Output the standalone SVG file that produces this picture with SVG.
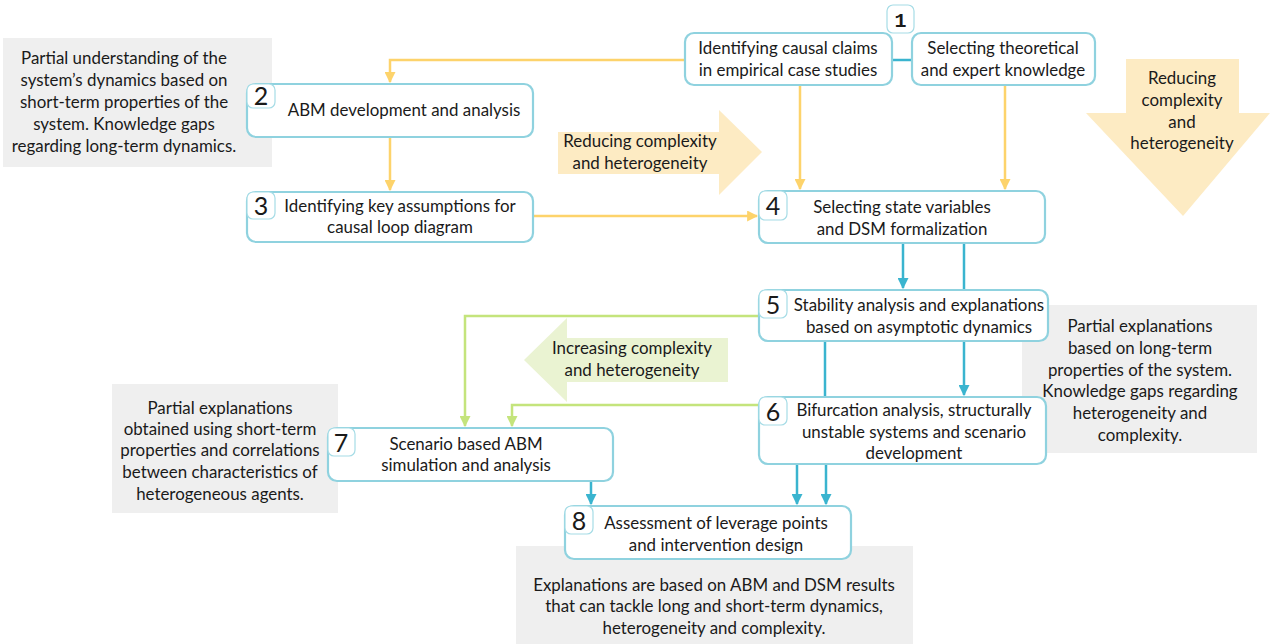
<svg xmlns="http://www.w3.org/2000/svg" width="1286" height="644" viewBox="0 0 1286 644">
<defs>
<style>
text{font-family:Lato,"Open Sans","Liberation Sans",sans-serif;font-size:16.9px;fill:#1a1a1a;text-anchor:middle}
.gray{fill:#efefef}
.node{fill:#fff;stroke:#8fd2df;stroke-width:2.2}
.badge{fill:#fff;stroke:#a6dce6;stroke-width:1.2}
.num{font-size:25px;text-anchor:middle}
.y{stroke:#fdd36b;stroke-width:2.5;fill:none}
.t{stroke:#3ab4cf;stroke-width:2.5;fill:none}
.g{stroke:#c4e47c;stroke-width:2.5;fill:none}
</style>
<marker id="ay" viewBox="0 0 10 10" refX="9" refY="5" markerWidth="4.4" markerHeight="4.4" orient="auto"><path d="M0,0L10,5L0,10z" fill="#fdd36b"/></marker>
<marker id="at" viewBox="0 0 10 10" refX="9" refY="5" markerWidth="4.4" markerHeight="4.4" orient="auto"><path d="M0,0L10,5L0,10z" fill="#3ab4cf"/></marker>
<marker id="ag" viewBox="0 0 10 10" refX="9" refY="5" markerWidth="4.4" markerHeight="4.4" orient="auto"><path d="M0,0L10,5L0,10z" fill="#c4e47c"/></marker>
</defs>
<rect width="1286" height="644" fill="#fff"/>
<g id="notes">
<rect class="gray" x="3" y="38" width="269" height="129"/>
<text x="124" y="64">Partial understanding of the</text>
<text x="124" y="86">system’s dynamics based on</text>
<text x="124" y="108">short-term properties of the</text>
<text x="124" y="130">system. Knowledge gaps</text>
<text x="124" y="152">regarding long-term dynamics.</text>
<rect class="gray" x="1022" y="305" width="235" height="148"/>
<text x="1140" y="332">Partial explanations</text>
<text x="1140" y="354">based on long-term</text>
<text x="1140" y="376">properties of the system.</text>
<text x="1140" y="397">Knowledge gaps regarding</text>
<text x="1140" y="419">heterogeneity and</text>
<text x="1140" y="441">complexity.</text>
<rect class="gray" x="112" y="384" width="226" height="129"/>
<text x="220" y="414">Partial explanations</text>
<text x="220" y="435">obtained using short-term</text>
<text x="220" y="456">properties and correlations</text>
<text x="220" y="478">between characteristics of</text>
<text x="220" y="500">heterogeneous agents.</text>
<rect class="gray" x="516" y="546" width="397" height="98"/>
<text x="714" y="591">Explanations are based on ABM and DSM results</text>
<text x="714" y="612">that can tackle long and short-term dynamics,</text>
<text x="714" y="634">heterogeneity and complexity.</text>
</g>
<g id="big-arrows">
<path d="M558,132H719V110L762,152L719,195V174H558Z" fill="#fdebc3"/>
<text x="640" y="147">Reducing complexity</text>
<text x="640" y="169">and heterogeneity</text>
<path d="M1126,59H1239V113H1270L1183,216L1086,113H1126Z" fill="#fdebc3"/>
<text x="1182" y="84">Reducing</text>
<text x="1182" y="106">complexity</text>
<text x="1182" y="128">and</text>
<text x="1182" y="149">heterogeneity</text>
<path d="M728,338H567V318L524,360L567,402V382H728Z" fill="#eaf3d2"/>
<text x="632" y="354">Increasing complexity</text>
<text x="632" y="376">and heterogeneity</text>
</g>
<g id="connectors">
<path class="y" d="M685,60H390V82" marker-end="url(#ay)"/>
<path class="y" d="M390,137V190" marker-end="url(#ay)"/>
<path class="y" d="M533,216H757" marker-end="url(#ay)"/>
<path class="y" d="M800,85V189" marker-end="url(#ay)"/>
<path class="y" d="M1005,85V189" marker-end="url(#ay)"/>
<path class="t" d="M892,60H912"/>
<path class="t" d="M903,243V288" marker-end="url(#at)"/>
<path class="t" d="M964,243V290"/>
<path class="t" d="M964,341V395" marker-end="url(#at)"/>
<path class="t" d="M825,341V397"/>
<path class="t" d="M797,464V504" marker-end="url(#at)"/>
<path class="t" d="M826,464V504" marker-end="url(#at)"/>
<path class="t" d="M591,481V504" marker-end="url(#at)"/>
<path class="g" d="M759,316H465V426" marker-end="url(#ag)"/>
<path class="g" d="M759,405H512V426" marker-end="url(#ag)"/>
</g>
<g id="node1">
<rect class="badge" x="887" y="5" width="27" height="28" rx="6"/>
<text x="900.5" y="27" style="font-family:'Liberation Mono',monospace;font-weight:bold;font-size:20px">1</text>
<rect class="node" x="685" y="33" width="207" height="52" rx="9"/>
<text x="788" y="54">Identifying causal claims</text>
<text x="788" y="76">in empirical case studies</text>
<rect class="node" x="912" y="33" width="183" height="52" rx="9"/>
<text x="1003" y="54">Selecting theoretical</text>
<text x="1003" y="76">and expert knowledge</text>
</g>
<g id="node2">
<rect class="node" x="247" y="84" width="286" height="53" rx="9"/>
<rect class="badge" x="247" y="84" width="28" height="24" rx="6"/>
<text class="num" x="261" y="105">2</text>
<text x="404" y="116">ABM development and analysis</text>
</g>
<g id="node3">
<rect class="node" x="247" y="192" width="286" height="50" rx="9"/>
<rect class="badge" x="247" y="192" width="28" height="27" rx="6"/>
<text class="num" x="261" y="215">3</text>
<text x="400" y="212">Identifying key assumptions for</text>
<text x="400" y="233">causal loop diagram</text>
</g>
<g id="node4">
<rect class="node" x="759" y="191" width="286" height="52" rx="9"/>
<rect class="badge" x="759" y="191" width="28" height="29" rx="6"/>
<text class="num" x="773" y="215">4</text>
<text x="902" y="213">Selecting state variables</text>
<text x="902" y="235">and DSM formalization</text>
</g>
<g id="node5">
<rect class="node" x="759" y="290" width="289" height="51" rx="9"/>
<rect class="badge" x="759" y="290" width="28" height="28" rx="6"/>
<text class="num" x="773" y="314">5</text>
<text x="919" y="311">Stability analysis and explanations</text>
<text x="919" y="333">based on asymptotic dynamics</text>
</g>
<g id="node6">
<rect class="node" x="759" y="397" width="287" height="67" rx="9"/>
<rect class="badge" x="759" y="397" width="28" height="28" rx="6"/>
<text class="num" x="773" y="421">6</text>
<text x="914" y="416">Bifurcation analysis, structurally</text>
<text x="914" y="438">unstable systems and scenario</text>
<text x="914" y="459">development</text>
</g>
<g id="node7">
<rect class="node" x="328" y="428" width="285" height="53" rx="9"/>
<rect class="badge" x="328" y="428" width="27" height="28" rx="6"/>
<text class="num" x="341" y="452">7</text>
<text x="466" y="450">Scenario based ABM</text>
<text x="466" y="471">simulation and analysis</text>
</g>
<g id="node8">
<rect class="node" x="565" y="506" width="286" height="53" rx="9"/>
<rect class="badge" x="565" y="506" width="28" height="28" rx="6"/>
<text class="num" x="579" y="530">8</text>
<text x="716" y="529">Assessment of leverage points</text>
<text x="716" y="551">and intervention design</text>
</g>
</svg>
